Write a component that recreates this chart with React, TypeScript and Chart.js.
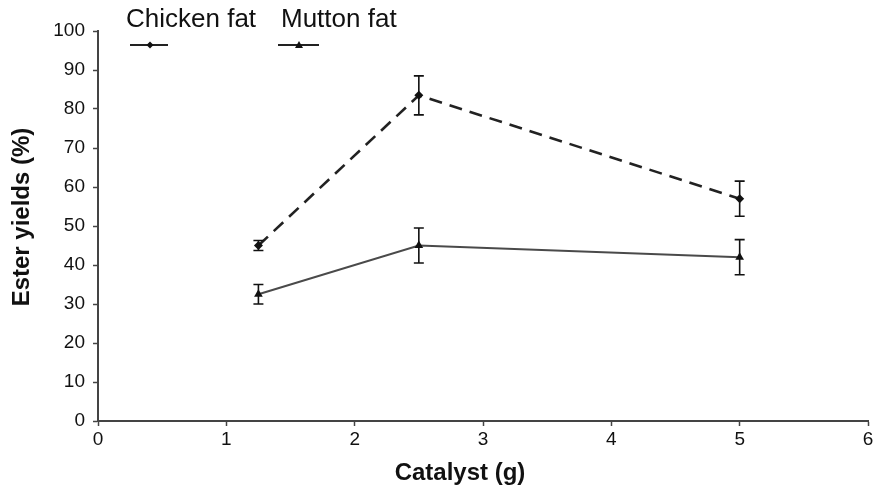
import React, { useEffect, useRef } from "react";
import { Chart, registerables } from "chart.js";

Chart.register(...registerables);

const catalystX = [1.25, 2.5, 5];
const chickenFat = [45, 83.5, 57];
const chickenErr = [1.3, 5, 4.5];
const muttonFat = [32.5, 45, 42];
const muttonErr = [2.5, 4.5, 4.5];
const seriesNames = ["Chicken fat", "Mutton fat"];
const xTitle = "Catalyst (g)";
const yTitle = "Ester yields (%)";

const FONT = "'Liberation Sans', Arial, Helvetica, sans-serif";

const errorBarPlugin = {
  id: "errorBars",
  afterDatasetsDraw(chart: any) {
    const { ctx, scales } = chart;
    const xs = scales.x;
    const ys = scales.y;
    const errs = [chickenErr, muttonErr];
    const vals = [chickenFat, muttonFat];
    ctx.save();
    ctx.strokeStyle = "#111";
    ctx.lineWidth = 1.6;
    errs.forEach((errArr, s) => {
      errArr.forEach((e, i) => {
        const px = xs.getPixelForValue(catalystX[i]);
        const top = ys.getPixelForValue(vals[s][i] + e);
        const bot = ys.getPixelForValue(vals[s][i] - e);
        ctx.beginPath();
        ctx.moveTo(px, top);
        ctx.lineTo(px, bot);
        ctx.moveTo(px - 5, top);
        ctx.lineTo(px + 5, top);
        ctx.moveTo(px - 5, bot);
        ctx.lineTo(px + 5, bot);
        ctx.stroke();
      });
    });
    ctx.restore();
  },
};

const titlesAndLegendPlugin = {
  id: "titlesLegend",
  afterDraw(chart: any) {
    const { ctx } = chart;
    ctx.save();
    // axis titles
    ctx.fillStyle = "#111";
    ctx.font = `bold 24px ${FONT}`;
    ctx.textAlign = "center";
    ctx.textBaseline = "middle";
    ctx.fillText(xTitle, 460, 473.5);
    ctx.save();
    ctx.translate(22.5, 217);
    ctx.rotate(-Math.PI / 2);
    ctx.fillText(yTitle, 0, 0);
    ctx.restore();
    // legend
    ctx.font = `26px ${FONT}`;
    ctx.textBaseline = "alphabetic";
    ctx.textAlign = "left";
    ctx.fillText(seriesNames[0], 126, 27);
    ctx.fillText(seriesNames[1], 281, 27);
    ctx.strokeStyle = "#222";
    ctx.lineWidth = 2;
    ctx.beginPath();
    ctx.moveTo(130, 45);
    ctx.lineTo(168, 45);
    ctx.moveTo(278, 45);
    ctx.lineTo(319, 45);
    ctx.stroke();
    ctx.fillStyle = "#111";
    ctx.beginPath();
    ctx.moveTo(150, 41.5);
    ctx.lineTo(153.5, 45);
    ctx.lineTo(150, 48.5);
    ctx.lineTo(146.5, 45);
    ctx.closePath();
    ctx.fill();
    ctx.beginPath();
    ctx.moveTo(299, 41);
    ctx.lineTo(303, 48);
    ctx.lineTo(295, 48);
    ctx.closePath();
    ctx.fill();
    ctx.restore();
  },
};

export default function App() {
  const ref = useRef<HTMLCanvasElement>(null);
  useEffect(() => {
    document.body.style.margin = "0";
    const canvas = ref.current!;
    const chart = new Chart(canvas, {
      type: "line",
      data: {
        datasets: [
          {
            label: seriesNames[0],
            data: catalystX.map((x, i) => ({ x, y: chickenFat[i] })),
            borderColor: "#222",
            backgroundColor: "#111",
            borderWidth: 2.6,
            borderDash: [13, 8],
            pointStyle: "rectRot",
            pointRadius: 4.5,
            pointBorderWidth: 0,
            tension: 0,
          },
          {
            label: seriesNames[1],
            data: catalystX.map((x, i) => ({ x, y: muttonFat[i] })),
            borderColor: "#4a4a4a",
            backgroundColor: "#111",
            borderWidth: 2,
            pointStyle: "triangle",
            pointRadius: 5,
            pointBorderWidth: 0,
            tension: 0,
          },
        ],
      },
      options: {
        responsive: false,
        animation: false,
        layout: { padding: { top: 31, right: 12, left: 0, bottom: 0 } },
        plugins: { legend: { display: false }, tooltip: { enabled: false } },
        scales: {
          x: {
            type: "linear",
            min: 0,
            max: 6,
            afterFit: (s: any) => {
              s.height = 70;
            },
            border: { color: "#444", width: 2 },
            grid: { drawOnChartArea: false, tickLength: 5, color: "#444", tickWidth: 1.5 },
            ticks: { stepSize: 1, color: "#111", padding: 2, font: { size: 19, family: FONT } },
            title: { display: false },
          },
          y: {
            type: "linear",
            min: 0,
            max: 100,
            afterFit: (s: any) => {
              s.width = 98;
            },
            border: { color: "#444", width: 2 },
            grid: { drawOnChartArea: false, tickLength: 5, color: "#444", tickWidth: 1.5 },
            ticks: { stepSize: 10, color: "#111", padding: 8, font: { size: 19, family: FONT } },
            title: { display: false },
          },
        },
      },
      plugins: [errorBarPlugin, titlesAndLegendPlugin],
    });
    return () => chart.destroy();
  }, []);
  return (
    <div style={{ width: 880, height: 491, background: "#fff" }}>
      <canvas ref={ref} width={880} height={491} />
    </div>
  );
}
